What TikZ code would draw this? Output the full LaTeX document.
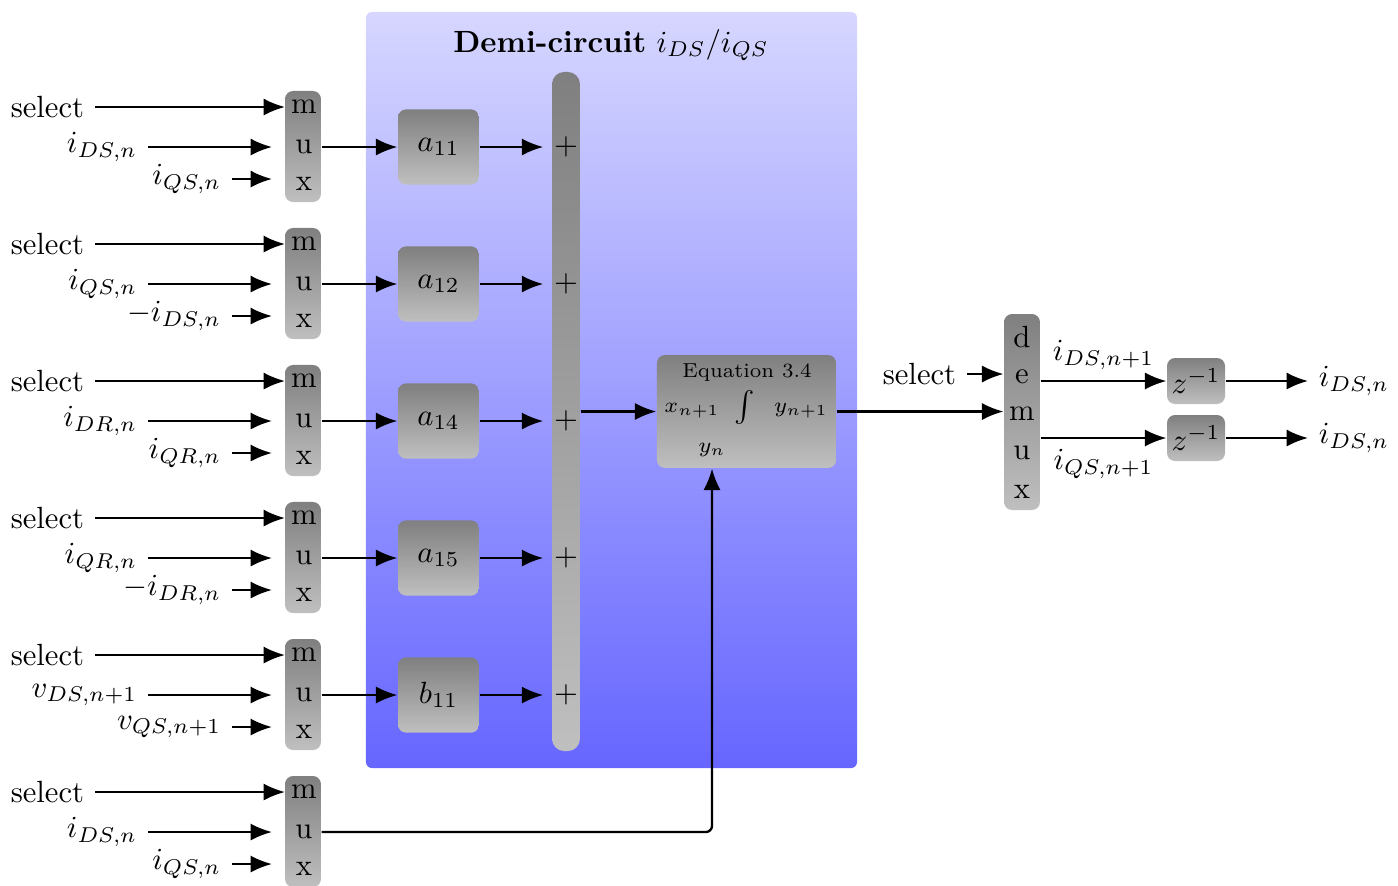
\documentclass[tikz,border=0pt]{standalone}
\usetikzlibrary{arrows.meta}
\begin{document}
\begin{tikzpicture}[x=0.326pt,y=-0.326pt,
  arr/.style={-{Latex[length=7pt,width=5.6pt]}, line width=0.75pt},
  gbox/.style={rounded corners=2.6pt, top color=black!50, bottom color=black!25, draw=none, inner sep=0pt},
  panel/.style={rounded corners=2pt, top color=blue!16, bottom color=blue!60, draw=none, inner sep=0pt,
                minimum width=160.1pt, minimum height=246.5pt},
  letter/.style={inner sep=0pt},
  eqtxt/.style={font=\scriptsize, inner sep=0pt},
]
\useasboundingbox (0,0) rectangle (1398,885);
% background panel
\node[panel] (panel) at (611.5,390) {};
\node (title) at (611,45) {\textbf{Demi-circuit} $i_{DS}/i_{QS}$};
% sum bar
\node[gbox, rounded corners=4pt, minimum width=9.1pt, minimum height=221.4pt] (sum) at (566,411.5) {};
% muxes with inputs
\foreach \i/\t/\la/\lb in {1/91/{i_{DS,n}}/{i_{QS,n}},
                           2/228/{i_{QS,n}}/{-i_{DS,n}},
                           3/365/{i_{DR,n}}/{i_{QR,n}},
                           4/502/{i_{QR,n}}/{-i_{DR,n}},
                           5/639/{v_{DS,n+1}}/{v_{QS,n+1}},
                           6/776/{i_{DS,n}}/{i_{QS,n}}}{
  \node[gbox, minimum width=11.7pt, minimum height=36.2pt] (mux\i) at (303,\t+55.5) {};
  \node[letter] (mm\i) at (304,\t+16) {m};
  \node[letter] (mu\i) at (304,\t+56) {u};
  \node[letter] (mx\i) at (304,\t+93) {x};
  \node[anchor=east] (sel\i) at (95,\t+16) {select};
  \node[anchor=east] (ia\i) at (148,\t+56) {$\la$};
  \node[anchor=east] (ib\i) at (232,\t+88) {$\lb$};
  \coordinate (ma\i) at (285,\t+16);
  \coordinate (ua\i) at (272,\t+56);
  \coordinate (xa\i) at (272,\t+88);
  \draw[arr] (sel\i.east) -- (ma\i);
  \draw[arr] (ia\i.east) -- (ua\i);
  \draw[arr] (ib\i.east) -- (xa\i);
}
% coefficient boxes
\foreach \i/\t/\c in {1/91/{a_{11}},2/228/{a_{12}},3/365/{a_{14}},4/502/{a_{15}},5/639/{b_{11}}}{
  \node[gbox, minimum width=26.4pt, minimum height=24.5pt] (a\i) at (438.5,\t+56) {$\c$};
  \node (p\i) at (566,\t+56) {$+$};
  \draw[arr] (mux\i.east |- a\i.west) -- (a\i.west);
  \draw[arr] (a\i.east) -- (p\i.west);
}
% equation block
\node[gbox, minimum width=58.4pt, minimum height=36.8pt] (eq) at (746.5,411.5) {};
\node[inner sep=0pt, font=\fontsize{6.6pt}{8pt}\selectfont] (eqt) at (747,373) {Equation 3.4};
\node[eqtxt] (ex) at (692,411) {$x_{n+1}$};
\node[eqtxt, text height=3.5pt, text depth=2.5pt] (ei) at (745,411) {$\int$};
\node[eqtxt] (ey) at (801,411) {$y_{n+1}$};
\node[eqtxt] (eyn) at (712,450) {$y_n$};
\draw[arr] (sum.east |- eq.west) -- (eq.west);
\draw[arr, rounded corners=2pt] (mux6.east |- mu6) -| (eyn |- eq.south);
% demux
\node[gbox, minimum width=11.7pt, minimum height=63.9pt] (dmx) at (1022,412) {};
\node[letter] (dd) at (1022,337) {d};
\node[letter] (de) at (1022,377) {e};
\node[letter] (dm) at (1022,414) {m};
\node[letter] (du) at (1022,453) {u};
\node[letter] (dx) at (1022,492) {x};
\draw[arr] (eq.east) -- (eq.east -| dmx.west);
\node[anchor=east] (dsel) at (967,374) {select};
\draw[arr] (dsel.east) -- (dsel.east -| dmx.west);
% delays
\node[gbox, minimum width=18.9pt, minimum height=15pt] (z1) at (1196,381) {$z^{-1}$};
\node[gbox, minimum width=18.9pt, minimum height=15pt] (z2) at (1196,438) {$z^{-1}$};
\draw[arr] (z1.west -| dmx.east) -- node[above] {$i_{DS,n+1}$} (z1.west);
\draw[arr] (z2.west -| dmx.east) -- node[below] {$i_{QS,n+1}$} (z2.west);
\node[anchor=west] (o1) at (1308,381) {$i_{DS,n}$};
\node[anchor=west] (o2) at (1308,438) {$i_{DS,n}$};
\draw[arr] (z1.east) -- (o1.west);
\draw[arr] (z2.east) -- (o2.west);
\end{tikzpicture}
\end{document}
